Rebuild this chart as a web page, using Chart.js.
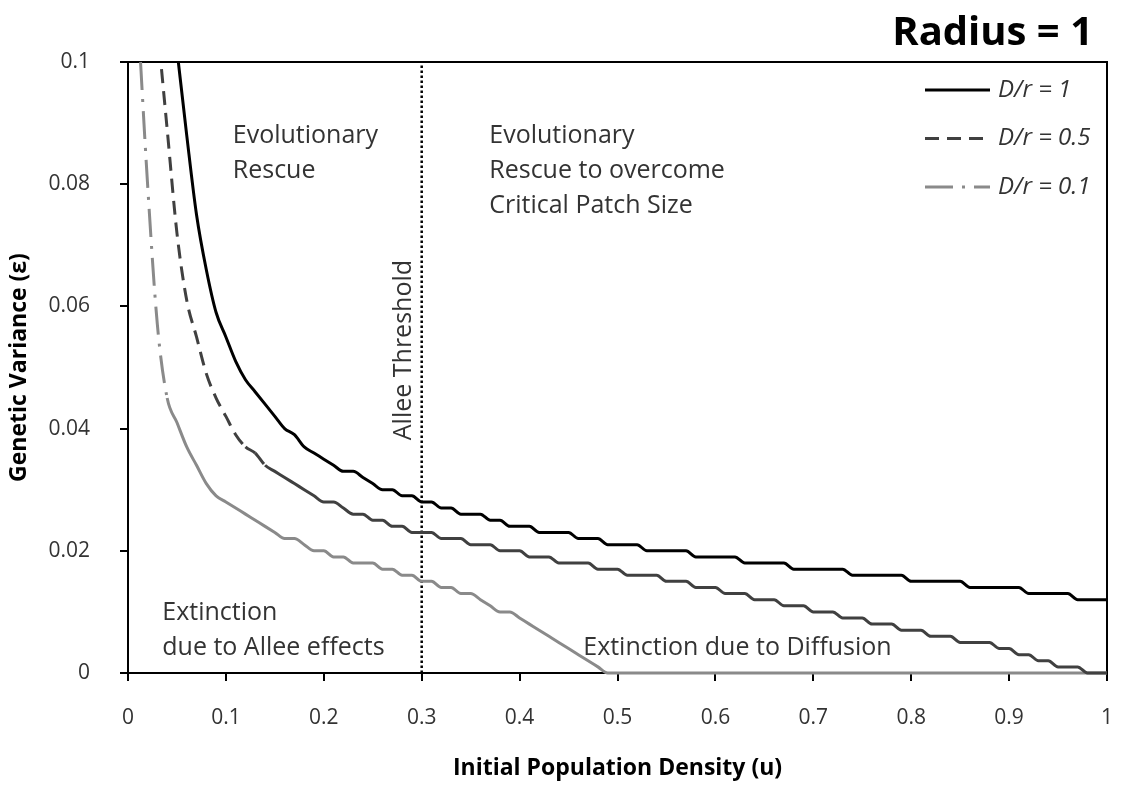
<!DOCTYPE html>
<html>
<head>
<meta charset="utf-8">
<title>Radius = 1</title>
<script src="https://cdn.jsdelivr.net/npm/chart.js@4/dist/chart.umd.min.js"></script>
<style>
  html, body { margin: 0; padding: 0; background: #ffffff; }
  #wrap { width: 1127px; height: 787px; position: relative; }
</style>
</head>
<body>
<div id="wrap"><canvas id="chart"></canvas></div>
<script>
// Initial population density u (shared sampling for all three curves)
const densityU = [
  0.01, 0.02, 0.03, 0.04, 0.05, 0.06, 0.07, 0.08, 0.09, 0.10,
  0.11, 0.12, 0.13, 0.14, 0.15, 0.16, 0.17, 0.18, 0.19, 0.20,
  0.21, 0.22, 0.23, 0.24, 0.25, 0.26, 0.27, 0.28, 0.29, 0.30,
  0.31, 0.32, 0.33, 0.34, 0.35, 0.36, 0.37, 0.38, 0.39, 0.40,
  0.41, 0.42, 0.43, 0.44, 0.45, 0.46, 0.47, 0.48, 0.49, 0.50,
  0.51, 0.52, 0.53, 0.54, 0.55, 0.56, 0.57, 0.58, 0.59, 0.60,
  0.61, 0.62, 0.63, 0.64, 0.65, 0.66, 0.67, 0.68, 0.69, 0.70,
  0.71, 0.72, 0.73, 0.74, 0.75, 0.76, 0.77, 0.78, 0.79, 0.80,
  0.81, 0.82, 0.83, 0.84, 0.85, 0.86, 0.87, 0.88, 0.89, 0.90,
  0.91, 0.92, 0.93, 0.94, 0.95, 0.96, 0.97, 0.98, 0.99, 1.00
];

// Critical genetic variance, D/r = 1
const varianceD1 = [
  null,  null,  null,  null,  0.102, 0.088, 0.075, 0.066, 0.059, 0.055,
  0.051, 0.048, 0.046, 0.044, 0.042, 0.040, 0.039, 0.037, 0.036, 0.035,
  0.034, 0.033, 0.033, 0.032, 0.031, 0.030, 0.030, 0.029, 0.029, 0.028,
  0.028, 0.027, 0.027, 0.026, 0.026, 0.026, 0.025, 0.025, 0.024, 0.024,
  0.024, 0.023, 0.023, 0.023, 0.023, 0.022, 0.022, 0.022, 0.021, 0.021,
  0.021, 0.021, 0.020, 0.020, 0.020, 0.020, 0.020, 0.019, 0.019, 0.019,
  0.019, 0.019, 0.018, 0.018, 0.018, 0.018, 0.018, 0.017, 0.017, 0.017,
  0.017, 0.017, 0.017, 0.016, 0.016, 0.016, 0.016, 0.016, 0.016, 0.015,
  0.015, 0.015, 0.015, 0.015, 0.015, 0.014, 0.014, 0.014, 0.014, 0.014,
  0.014, 0.013, 0.013, 0.013, 0.013, 0.013, 0.012, 0.012, 0.012, 0.012
];

// Critical genetic variance, D/r = 0.5
const varianceD05 = [
  null,  null,  0.106, 0.089, 0.072, 0.061, 0.055, 0.049, 0.045, 0.042,
  0.039, 0.037, 0.036, 0.034, 0.033, 0.032, 0.031, 0.030, 0.029, 0.028,
  0.028, 0.027, 0.026, 0.026, 0.025, 0.025, 0.024, 0.024, 0.023, 0.023,
  0.023, 0.022, 0.022, 0.022, 0.021, 0.021, 0.021, 0.020, 0.020, 0.020,
  0.019, 0.019, 0.019, 0.018, 0.018, 0.018, 0.018, 0.017, 0.017, 0.017,
  0.016, 0.016, 0.016, 0.016, 0.015, 0.015, 0.015, 0.014, 0.014, 0.014,
  0.013, 0.013, 0.013, 0.012, 0.012, 0.012, 0.011, 0.011, 0.011, 0.010,
  0.010, 0.010, 0.009, 0.009, 0.009, 0.008, 0.008, 0.008, 0.007, 0.007,
  0.007, 0.006, 0.006, 0.006, 0.005, 0.005, 0.005, 0.005, 0.004, 0.004,
  0.003, 0.003, 0.002, 0.002, 0.001, 0.001, 0.001, 0.000, 0.000, 0.000
];

// Critical genetic variance, D/r = 0.1
const varianceD01 = [
  0.108, 0.080, 0.057, 0.045, 0.041, 0.037, 0.034, 0.031, 0.029, 0.028,
  0.027, 0.026, 0.025, 0.024, 0.023, 0.022, 0.022, 0.021, 0.020, 0.020,
  0.019, 0.019, 0.018, 0.018, 0.018, 0.017, 0.017, 0.016, 0.016, 0.015,
  0.015, 0.014, 0.014, 0.013, 0.013, 0.012, 0.011, 0.010, 0.010, 0.009,
  0.008, 0.007, 0.006, 0.005, 0.004, 0.003, 0.002, 0.001, 0.000, 0.000,
  0.000, 0.000, 0.000, 0.000, 0.000, 0.000, 0.000, 0.000, 0.000, 0.000,
  0.000, 0.000, 0.000, 0.000, 0.000, 0.000, 0.000, 0.000, 0.000, 0.000,
  0.000, 0.000, 0.000, 0.000, 0.000, 0.000, 0.000, 0.000, 0.000, 0.000,
  0.000, 0.000, 0.000, 0.000, 0.000, 0.000, 0.000, 0.000, 0.000, 0.000,
  0.000, 0.000, 0.000, 0.000, 0.000, 0.000, 0.000, 0.000, 0.000, 0.000
];

const seriesLabels = ['D/r = 1', 'D/r = 0.5', 'D/r = 0.1'];

// Allee threshold position on the density axis
const alleeThresholdU = 0.3;
const alleeLineEps = [0, 0.1];

// Axis ticks
const xTickValues = [0, 0.1, 0.2, 0.3, 0.4, 0.5, 0.6, 0.7, 0.8, 0.9, 1];
const xTickLabels = ['0', '0.1', '0.2', '0.3', '0.4', '0.5', '0.6', '0.7', '0.8', '0.9', '1'];
const yTickValues = [0, 0.02, 0.04, 0.06, 0.08, 0.1];
const yTickLabels = ['0', '0.02', '0.04', '0.06', '0.08', '0.1'];

// Region captions, anchored in data units (first line), further lines step down in pixels
const regionNotes = [
  { u: 0.107, eps: 0.0867, lines: ['Evolutionary', 'Rescue'] },
  { u: 0.369, eps: 0.0867, lines: ['Evolutionary', 'Rescue to overcome', 'Critical Patch Size'] },
  { u: 0.035, eps: 0.0087, lines: ['Extinction', 'due to Allee effects'] },
  { u: 0.465, eps: 0.0029, lines: ['Extinction due to Diffusion'] }
];
const thresholdNote = { u: 0.290, eps: 0.0381, text: 'Allee Threshold' };

const toPoints = (vals) => densityU.map((u, i) => ({ x: u, y: vals[i] }));

// Steep (long) segments keep the dash pattern, short ones are drawn solid
const dashWhenLong = (minLen) => (ctx) =>
  Math.hypot(ctx.p1.x - ctx.p0.x, ctx.p1.y - ctx.p0.y) > minLen ? undefined : [];

const FONT = '"Open Sans", Lato, "DejaVu Sans", sans-serif';
const TEXT_COLOR = '#333333';

const decorations = {
  id: 'decorations',
  beforeDatasetsDraw(chart) {
    const { ctx, chartArea: a } = chart;
    ctx.save();
    ctx.strokeStyle = '#000';
    ctx.lineWidth = 2;
    ctx.beginPath();
    ctx.moveTo(a.left, a.top);
    ctx.lineTo(a.right, a.top);
    ctx.lineTo(a.right, a.bottom);
    ctx.stroke();
    ctx.restore();
  },
  afterDatasetsDraw(chart) {
    const { ctx, chartArea: a, scales: { x, y } } = chart;
    ctx.save();

    // region captions
    ctx.font = '25px ' + FONT;
    ctx.fillStyle = TEXT_COLOR;
    ctx.textAlign = 'left';
    ctx.textBaseline = 'alphabetic';
    regionNotes.forEach(n => {
      const px = x.getPixelForValue(n.u);
      const py = y.getPixelForValue(n.eps);
      n.lines.forEach((t, i) => ctx.fillText(t, px, py + i * 35));
    });

    // vertical caption beside the threshold line
    ctx.save();
    ctx.translate(x.getPixelForValue(thresholdNote.u) - 1, y.getPixelForValue(thresholdNote.eps));
    ctx.rotate(-Math.PI / 2);
    ctx.fillText(thresholdNote.text, 0, 0);
    ctx.restore();

    // legend: line samples with italic labels
    chart.data.datasets.slice(0, 3).forEach((ds, i) => {
      const rowY = a.top + 28 + i * 48.5;
      const x0 = a.right - 182, x1 = a.right - 117;
      ctx.save();
      ctx.strokeStyle = ds.borderColor;
      ctx.lineWidth = ds.borderWidth;
      ctx.setLineDash(ds.borderDash || []);
      ctx.beginPath();
      ctx.moveTo(x0, rowY);
      ctx.lineTo(x1, rowY);
      ctx.stroke();
      ctx.restore();
      ctx.font = 'italic 24px ' + FONT;
      ctx.fillStyle = TEXT_COLOR;
      ctx.textAlign = 'left';
      ctx.textBaseline = 'middle';
      ctx.fillText(ds.label, x1 + 8, rowY);
    });

    // chart heading
    ctx.font = 'bold 40px ' + FONT;
    ctx.fillStyle = '#000';
    ctx.textAlign = 'right';
    ctx.textBaseline = 'alphabetic';
    ctx.fillText('Radius = 1', a.right - 14, 45);

    ctx.restore();
  }
};

const lineBase = { pointRadius: 0, pointHoverRadius: 0, fill: false, spanGaps: false,
                   cubicInterpolationMode: 'monotone',
                   clip: { left: 0, top: 0, right: 0, bottom: 2 } };

new Chart(document.getElementById('chart'), {
  type: 'line',
  data: {
    datasets: [
      Object.assign({}, lineBase, {
        label: seriesLabels[0], data: toPoints(varianceD1),
        borderColor: '#000000', borderWidth: 3
      }),
      Object.assign({}, lineBase, {
        label: seriesLabels[1], data: toPoints(varianceD05),
        borderColor: '#404040', borderWidth: 3, borderDash: [14, 8],
        segment: { borderDash: dashWhenLong(15) }
      }),
      Object.assign({}, lineBase, {
        label: seriesLabels[2], data: toPoints(varianceD01),
        borderColor: '#8a8a8a', borderWidth: 3, borderDash: [28, 9, 3, 9],
        segment: { borderDash: dashWhenLong(30) }
      }),
      Object.assign({}, lineBase, {
        label: 'Allee Threshold',
        data: alleeLineEps.map(e => ({ x: alleeThresholdU, y: e })),
        borderColor: '#000000', borderWidth: 2.5, borderDash: [2.5, 2.5],
        cubicInterpolationMode: 'default', tension: 0
      })
    ]
  },
  options: {
    responsive: true,
    maintainAspectRatio: false,
    animation: false,
    events: [],
    layout: { padding: { top: 62, right: 20, bottom: 0, left: 0 } },
    plugins: {
      legend: { display: false },
      tooltip: { enabled: false },
      title: { display: false }
    },
    scales: {
      x: {
        type: 'linear', min: 0, max: 1,
        afterBuildTicks: s => { s.ticks = xTickValues.map(v => ({ value: v })); },
        afterFit: s => { s.height = 114; s.paddingLeft = 0; s.paddingRight = 0; },
        ticks: {
          callback: (v, i) => xTickLabels[i],
          autoSkip: false, maxRotation: 0,
          font: { family: FONT, size: 21 }, color: TEXT_COLOR, padding: 24
        },
        grid: { display: true, drawOnChartArea: false, drawTicks: true, tickLength: 8, color: '#000', lineWidth: 2 },
        border: { display: true, color: '#000', width: 2 },
        title: {
          display: true, text: 'Initial Population Density (u)',
          font: { family: FONT, size: 23, weight: 'bold' }, color: '#000',
          padding: { top: 0, bottom: 5 }
        }
      },
      y: {
        type: 'linear', min: 0, max: 0.1,
        afterBuildTicks: s => { s.ticks = yTickValues.map(v => ({ value: v })); },
        afterFit: s => { s.width = 128; s.paddingTop = 0; s.paddingBottom = 0; },
        ticks: {
          callback: (v, i) => yTickLabels[i],
          autoSkip: false,
          font: { family: FONT, size: 21 }, color: TEXT_COLOR, padding: 30
        },
        grid: { display: true, drawOnChartArea: false, drawTicks: true, tickLength: 8, color: '#000', lineWidth: 2 },
        border: { display: true, color: '#000', width: 2 },
        title: {
          display: true, text: 'Genetic Variance (\u03b5)',
          font: { family: FONT, size: 23, weight: 'bold' }, color: '#000',
          padding: { top: 6, bottom: 0 }
        }
      }
    }
  },
  plugins: [decorations]
});
</script>
</body>
</html>
